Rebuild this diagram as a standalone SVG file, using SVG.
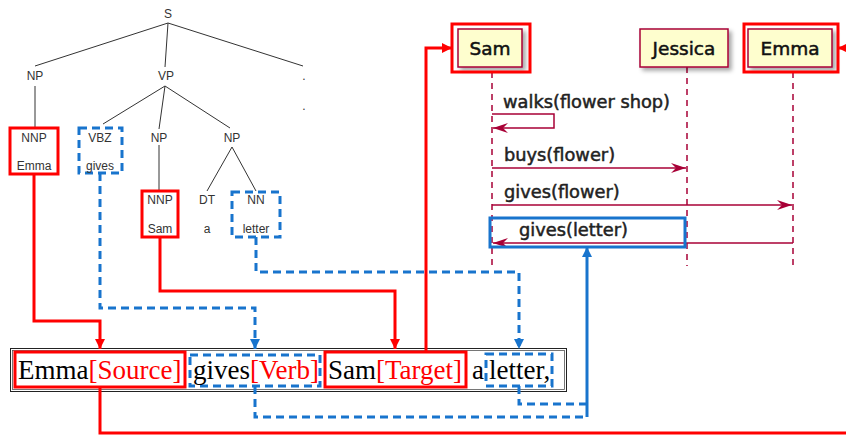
<svg xmlns="http://www.w3.org/2000/svg" width="846" height="435" viewBox="0 0 846 435">
<style>
.tt{font-family:"Liberation Sans",Arial,sans-serif;font-size:12px;fill:#333;text-anchor:middle}
.tl{stroke:#333;stroke-width:1;fill:none}
.rbox{fill:none;stroke:#ff0000;stroke-width:3}
.bbox{fill:none;stroke:#1874cd;stroke-width:3;stroke-dasharray:8 5}
.rc{fill:none;stroke:#ff0000;stroke-width:3}
.bc{fill:none;stroke:#1874cd;stroke-width:3;stroke-dasharray:8 5}
.bs{fill:none;stroke:#1874cd;stroke-width:3}
.st{font-family:"Liberation Serif","Times New Roman",serif;font-size:27px;fill:#000}
.red{fill:#ff0000}
.part{fill:#fefece;stroke:#a80036;stroke-width:1.5}
.pt{font-family:"DejaVu Sans",Verdana,sans-serif;font-size:18.5px;fill:#111;stroke:#111;stroke-width:0.5;text-anchor:middle}
.life{stroke:#a80036;stroke-width:1.5;stroke-dasharray:6 5;fill:none}
.msg{stroke:#a80036;stroke-width:1.5;fill:none}
.mt{font-family:"DejaVu Sans",Verdana,sans-serif;font-size:17.8px;fill:#222;stroke:#222;stroke-width:0.5}
</style>
<defs>
<marker id="ar" markerUnits="userSpaceOnUse" markerWidth="10" markerHeight="10" refX="10" refY="5" orient="auto"><path d="M0,0 L10,5 L0,10 z" fill="#ff0000"/></marker>
<marker id="ab" markerUnits="userSpaceOnUse" markerWidth="10" markerHeight="10" refX="10" refY="5" orient="auto"><path d="M0,0 L10,5 L0,10 z" fill="#1874cd"/></marker>
<marker id="am" markerUnits="userSpaceOnUse" markerWidth="16" markerHeight="12" refX="15" refY="6" orient="auto"><path d="M0,1 L15,6 L0,11 L5,6 z" fill="#a80036"/></marker>
<filter id="sh" x="-20%" y="-20%" width="150%" height="150%"><feDropShadow dx="3" dy="3" stdDeviation="2" flood-color="#000" flood-opacity="0.35"/></filter>
</defs>

<g id="tree">
<path class="tl" d="M168,23 L35,66 M168,23 L165,67 M168,23 L303,66 M35,86 L35,128 M165,86 L103,124 M165,86 L159,129 M165,86 L230,128 M159,145 L159,191 M232,147 L207,191 M232,147 L256,191"/>
<text class="tt" x="168" y="18">S</text>
<text class="tt" x="35" y="80">NP</text>
<text class="tt" x="166" y="80">VP</text>
<text class="tt" x="304" y="80">.</text>
<text class="tt" x="304" y="110">.</text>
<text class="tt" x="159" y="142">NP</text>
<text class="tt" x="232" y="142">NP</text>
<text class="tt" x="207" y="204">DT</text>
<text class="tt" x="207" y="233">a</text>
</g>
<g id="nnp-emma"><rect class="rbox" x="10" y="128" width="48" height="46"/><text class="tt" x="34" y="142">NNP</text><text class="tt" x="34" y="170">Emma</text></g>
<g id="vbz-gives"><rect class="bbox" x="79" y="128" width="43" height="45"/><text class="tt" x="100" y="142">VBZ</text><text class="tt" x="100" y="170">gives</text></g>
<g id="nnp-sam"><rect class="rbox" x="142" y="191" width="36" height="46"/><text class="tt" x="160" y="204">NNP</text><text class="tt" x="160" y="233">Sam</text></g>
<g id="nn-letter"><rect class="bbox" x="232" y="192" width="48" height="45"/><text class="tt" x="256" y="204">NN</text><text class="tt" x="256" y="233">letter</text></g>

<g id="sentence">
<rect x="10.5" y="348.5" width="556" height="43" fill="none" stroke="#222" stroke-width="1"/>
<rect x="12.5" y="350.5" width="552" height="39" fill="none" stroke="#555" stroke-width="0.8"/>
</g>
<g id="emma-source"><rect class="rbox" x="15" y="352" width="170" height="35"/><text class="st" x="18" y="379">Emma<tspan class="red">[Source]</tspan></text></g>
<g id="gives-verb"><rect class="bbox" x="190" y="355" width="130" height="31"/><text class="st" x="193" y="379">gives<tspan class="red">[Verb]</tspan></text></g>
<g id="sam-target"><rect class="rbox" x="325" y="352" width="141" height="35"/><text class="st" x="328" y="379">Sam<tspan class="red">[Target]</tspan></text></g>
<g id="a-word"><text class="st" x="472" y="379">a</text></g>
<g id="letter"><rect class="bbox" x="486" y="354" width="66" height="32"/><text class="st" x="489" y="379">letter,</text></g>

<g id="seq">
<path class="life" d="M492,72 V266 M687,67 V266 M793,72 V266"/>
<g id="p-sam"><rect class="part" x="458" y="29" width="64" height="38" filter="url(#sh)"/><rect class="rbox" x="452" y="24" width="78" height="48"/><text class="pt" x="490" y="55">Sam</text></g>
<g id="p-jessica"><rect class="part" x="640" y="29" width="88" height="38" filter="url(#sh)"/><text class="pt" x="684" y="55">Jessica</text></g>
<g id="p-emma"><rect class="part" x="748" y="29" width="84" height="38" filter="url(#sh)"/><rect class="rbox" x="744" y="24" width="94" height="48"/><text class="pt" x="790" y="55">Emma</text></g>
<text class="mt" x="503" y="108">walks(flower shop)</text>
<path class="msg" d="M492,114 H554 V128 H493" marker-end="url(#am)"/>
<text class="mt" x="504" y="161">buys(flower)</text>
<path class="msg" d="M492,168 H686" marker-end="url(#am)"/>
<text class="mt" x="504" y="198">gives(flower)</text>
<path class="msg" d="M492,205 H792" marker-end="url(#am)"/>
<text class="mt" x="519" y="236">gives(letter)</text>
<path class="msg" d="M793,243 H493" marker-end="url(#am)"/>
<rect id="gives-letter-box" x="490" y="218" width="195" height="29" fill="none" stroke="#1874cd" stroke-width="3"/>
</g>

<g id="connectors">
<path class="rc" d="M34,174 V321 H100 V349" marker-end="url(#ar)"/>
<path class="bc" d="M100,173 V308 H255 V349" marker-end="url(#ab)"/>
<path class="rc" d="M160,237 V291 H395 V349" marker-end="url(#ar)"/>
<path class="bc" d="M256,237 V272 H519 V349" marker-end="url(#ab)"/>
<path class="rc" d="M426,352 V48 H452" marker-end="url(#ar)"/>
<path class="rc" d="M100,387 V433 H846"/>
<path class="rc" d="M850,48 H838" marker-end="url(#ar)"/>
<path class="bc" d="M255,386 V417 H587"/>
<path class="bc" d="M519,386 V404 H587"/>
<path class="bs" d="M587,417 V247" marker-end="url(#ab)"/>
</g>
</svg>
